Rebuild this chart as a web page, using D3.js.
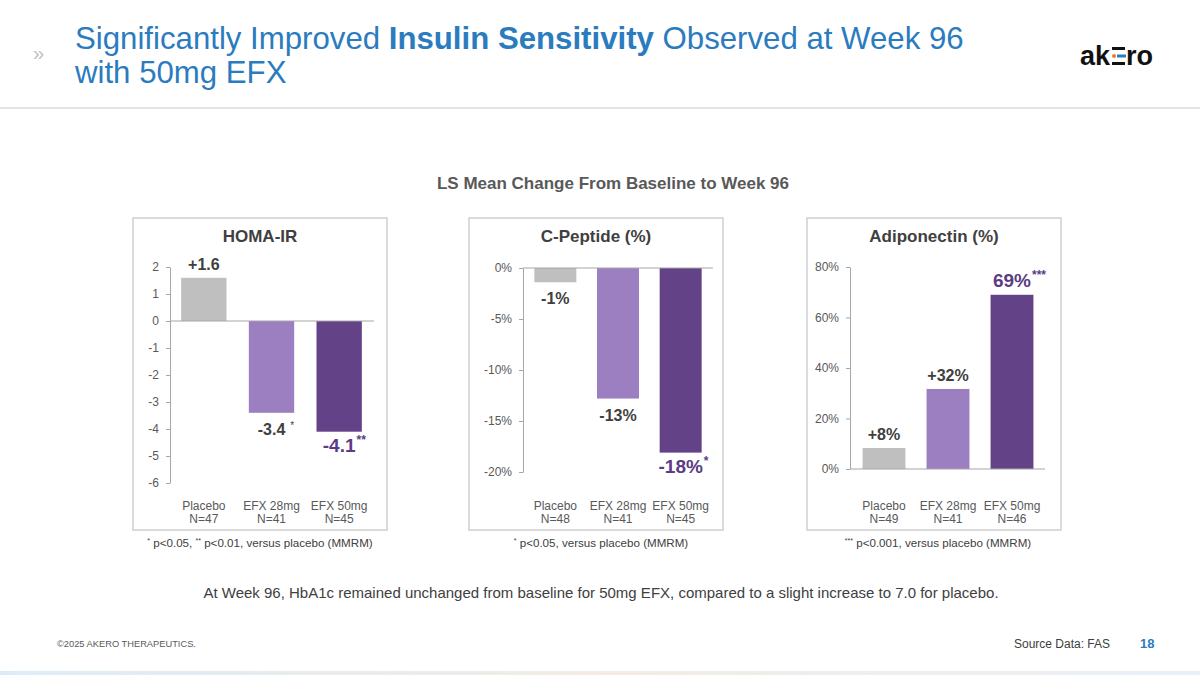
<!DOCTYPE html>
<html><head><meta charset="utf-8">
<script src="https://cdn.jsdelivr.net/npm/d3@7"></script>
<style>
html,body{margin:0;padding:0;background:#fff;}
svg{display:block;font-family:"Liberation Sans",Arial,sans-serif;}
</style></head>
<body><svg id="c" width="1200" height="675"></svg>
<script>
// ---------- data ----------
const groups = ["Placebo", "EFX 28mg", "EFX 50mg"];

const homaValues = [1.6, -3.4, -4.1];
const homaLabels = ["+1.6", "-3.4", "-4.1"];
const homaStars  = ["", "*", "**"];
const homaN      = [47, 41, 45];
const homaTicks  = [2, 1, 0, -1, -2, -3, -4, -5, -6];

const cpepValues = [-1.4, -12.8, -18.1];
const cpepLabels = ["-1%", "-13%", "-18%"];
const cpepStars  = ["", "", "*"];
const cpepN      = [48, 41, 45];
const cpepTicks  = [0, -5, -10, -15, -20];

const adipoValues = [8.3, 31.7, 69];
const adipoLabels = ["+8%", "+32%", "69%"];
const adipoStars  = ["", "", "***"];
const adipoN      = [49, 41, 46];
const adipoTicks  = [0, 20, 40, 60, 80];

// ---------- drawing ----------
const svg = d3.select("#c");
const barColors = ["#bfbfbf", "#9b7fc0", "#634288"];
const labelColors = ["#404040", "#404040", "#5b3c85"];

// header
svg.append("text").attr("x", 33).attr("y", 60).attr("fill", "#bfbfbf")
  .attr("font-size", 20).text("»");
const t1 = svg.append("text").attr("x", 75).attr("y", 49).attr("fill", "#2b7bbf")
  .attr("font-size", 31.2);
t1.append("tspan").text("Significantly Improved ");
t1.append("tspan").attr("font-weight", "bold").text("Insulin Sensitivity");
t1.append("tspan").text(" Observed at Week 96");
svg.append("text").attr("x", 75).attr("y", 83).attr("fill", "#2b7bbf")
  .attr("font-size", 31.2).text("with 50mg EFX");

// logo
const logo = svg.append("g");
logo.append("text").attr("x", 1080).attr("y", 65).attr("font-size", 27)
  .attr("font-weight", "bold").attr("fill", "#111").text("ak");
logo.append("rect").attr("x", 1112).attr("y", 47).attr("width", 13).attr("height", 3).attr("fill", "#111");
logo.append("rect").attr("x", 1112).attr("y", 62).attr("width", 13).attr("height", 3).attr("fill", "#111");
logo.append("circle").attr("cx", 1114).attr("cy", 56).attr("r", 2).attr("fill", "#ee7d2b");
logo.append("rect").attr("x", 1117).attr("y", 54.5).attr("width", 9).attr("height", 3).attr("fill", "#2b7bbf");
logo.append("text").attr("x", 1126).attr("y", 65).attr("font-size", 27)
  .attr("font-weight", "bold").attr("fill", "#111").text("ro");

// header separator
svg.append("rect").attr("x", 0).attr("y", 107).attr("width", 1200).attr("height", 2).attr("fill", "#e3e3e3");

// main chart title
svg.append("text").attr("x", 613).attr("y", 189).attr("text-anchor", "middle")
  .attr("font-size", 17).attr("font-weight", "bold").attr("fill", "#595959")
  .text("LS Mean Change From Baseline to Week 96");

function panel(opt) {
  const g = svg.append("g");
  g.append("rect").attr("x", opt.left).attr("y", 218).attr("width", 254).attr("height", 312)
    .attr("fill", "none").attr("stroke", "#d0d0d0").attr("stroke-width", 1.5);
  g.append("text").attr("x", opt.left + 127).attr("y", 242).attr("text-anchor", "middle")
    .attr("font-size", 17).attr("font-weight", "bold").attr("fill", "#404040").text(opt.title);

  const y = d3.scaleLinear().domain(opt.domain).range(opt.yRange);
  const x = d3.scaleBand().domain(groups).range(opt.xRange).paddingInner(0.33).paddingOuter(0.165);

  const ax = g.append("g").attr("transform", `translate(${opt.axisX},0)`)
    .call(d3.axisLeft(y).tickValues(opt.ticks).tickSize(4).tickSizeOuter(0).tickPadding(7).tickFormat(opt.fmt));
  ax.select(".domain").attr("stroke", "#a6a6a6");
  ax.selectAll(".tick line").attr("stroke", "#a6a6a6");
  ax.selectAll(".tick text").attr("font-size", 12).attr("fill", "#595959")
    .attr("font-family", "Liberation Sans, Arial, sans-serif");

  g.selectAll("rect.bar").data(opt.values).join("rect").attr("class", "bar")
    .attr("x", (d, i) => x(groups[i]))
    .attr("width", x.bandwidth())
    .attr("y", d => y(Math.max(0, d)))
    .attr("height", d => Math.abs(y(d) - y(0)))
    .attr("fill", (d, i) => barColors[i]);

  // zero line
  g.append("line").attr("x1", opt.axisX).attr("x2", opt.xRange[1] + 1)
    .attr("y1", y(0)).attr("y2", y(0)).attr("stroke", "#a6a6a6").attr("stroke-width", 1);

  // value labels
  opt.values.forEach((v, i) => {
    const cx = x(groups[i]) + x.bandwidth() / 2;
    const big = i === 2;
    const fs = big ? 19 : 16;
    const yy = v >= 0 ? y(v) - 8 : y(v) + (big ? 20 : 22);
    const t = g.append("text").attr("x", cx).attr("y", yy).attr("text-anchor", "middle")
      .attr("font-size", fs).attr("font-weight", "bold").attr("fill", labelColors[i])
      .text(opt.labels[i]);
    if (opt.stars[i]) {
      const w = t.node().getComputedTextLength();
      g.append("text").attr("x", cx + w / 2 + (big ? 1 : 5)).attr("y", yy - (big ? 8 : 6))
        .attr("font-size", big ? 12 : 10).attr("font-weight", big ? "bold" : "normal")
        .attr("fill", labelColors[i]).text(opt.stars[i]);
    }
  });

  // category labels
  groups.forEach((gname, i) => {
    const cx = x(gname) + x.bandwidth() / 2;
    g.append("text").attr("x", cx).attr("y", 510).attr("text-anchor", "middle")
      .attr("font-size", 12).attr("fill", "#595959").text(gname);
    g.append("text").attr("x", cx).attr("y", 523).attr("text-anchor", "middle")
      .attr("font-size", 12).attr("fill", "#595959").text("N=" + opt.n[i]);
  });

  // footnote
  const fn = g.append("text").attr("x", opt.fnX).attr("y", 547).attr("text-anchor", "middle")
    .attr("font-size", 11.6).attr("fill", "#404040");
  opt.foot.forEach(p => {
    if (p.sup) fn.append("tspan").attr("font-size", 7).attr("dy", -4).text(p.t);
    else fn.append("tspan").attr("dy", p.after ? 4 : 0).text(p.t);
  });
}

panel({
  left: 133, title: "HOMA-IR", domain: [-6, 2], yRange: [483, 267], xRange: [170, 373], axisX: 170,
  ticks: homaTicks, fmt: d => d3.format("d")(d).replace("−", "-"), values: homaValues, labels: homaLabels,
  stars: homaStars, n: homaN, fnX: 260,
  foot: [{t: "*", sup: true}, {t: " p<0.05, ", after: true}, {t: "**", sup: true}, {t: " p<0.01, versus placebo (MMRM)", after: true}]
});
panel({
  left: 469, title: "C-Peptide (%)", domain: [-20, 0], yRange: [472, 268], xRange: [524, 712], axisX: 523,
  ticks: cpepTicks, fmt: d => (d < 0 ? "-" + Math.abs(d) : d) + "%", values: cpepValues, labels: cpepLabels,
  stars: cpepStars, n: cpepN, fnX: 601,
  foot: [{t: "*", sup: true}, {t: " p<0.05, versus placebo (MMRM)", after: true}]
});
panel({
  left: 807, title: "Adiponectin (%)", domain: [0, 80], yRange: [469, 267], xRange: [852, 1044], axisX: 850,
  ticks: adipoTicks, fmt: d => d + "%", values: adipoValues, labels: adipoLabels,
  stars: adipoStars, n: adipoN, fnX: 938,
  foot: [{t: "***", sup: true}, {t: " p<0.001, versus placebo (MMRM)", after: true}]
});

// bottom note
svg.append("text").attr("x", 601).attr("y", 598).attr("text-anchor", "middle")
  .attr("font-size", 15).attr("fill", "#404040")
  .text("At Week 96, HbA1c remained unchanged from baseline for 50mg EFX, compared to a slight increase to 7.0 for placebo.");

// footer
svg.append("text").attr("x", 57).attr("y", 647).attr("font-size", 9.3).attr("fill", "#595959")
  .text("©2025 AKERO THERAPEUTICS.");
svg.append("text").attr("x", 1110).attr("y", 648).attr("text-anchor", "end").attr("font-size", 12)
  .attr("fill", "#404040").text("Source Data: FAS");
svg.append("text").attr("x", 1140).attr("y", 648).attr("font-size", 13).attr("font-weight", "bold")
  .attr("fill", "#2b7bbf").text("18");

const grad = svg.append("defs").append("linearGradient").attr("id", "bg");
grad.append("stop").attr("offset", "0%").attr("stop-color", "#dcecf7");
grad.append("stop").attr("offset", "50%").attr("stop-color", "#f3ece4");
grad.append("stop").attr("offset", "100%").attr("stop-color", "#e9f1f8");
svg.append("rect").attr("x", 0).attr("y", 671).attr("width", 1200).attr("height", 4).attr("fill", "url(#bg)");
</script></body></html>
